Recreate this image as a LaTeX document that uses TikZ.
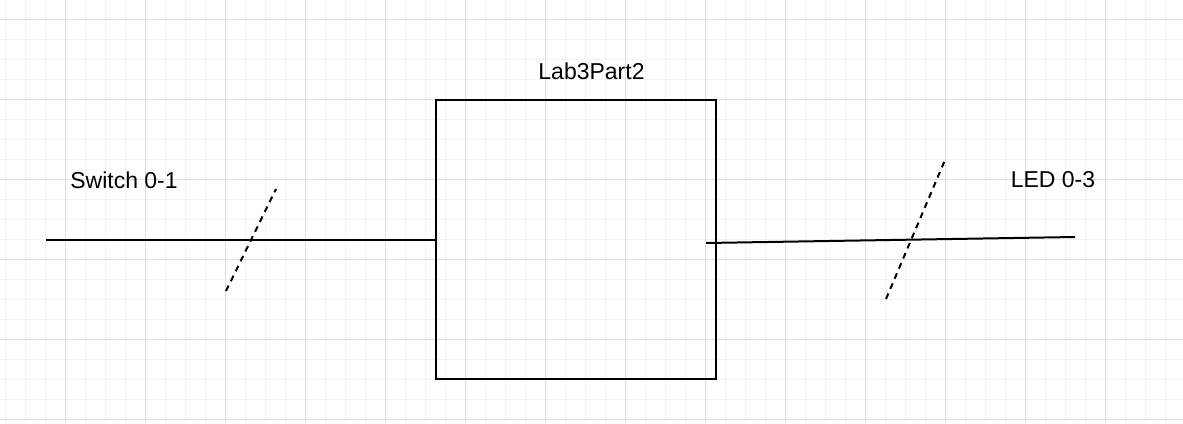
\documentclass[tikz,border=0pt]{standalone}
\usepackage{fontspec}
\setmainfont{Liberation Sans}
\usetikzlibrary{positioning}
\definecolor{gridminor}{HTML}{F3F3F3}
\definecolor{gridmajor}{HTML}{DEDEDE}
\begin{document}
\begin{tikzpicture}[x=1pt,y=-1pt,semithick,
		font=\fontsize{23}{28}\selectfont]
		\tikzstyle{wire}=[line width=2pt]
		\tikzstyle{bus}=[line width=2pt,dash pattern=on 6pt off 5pt]
		\tikzstyle{block}=[draw,line width=2pt,minimum width=280pt,minimum height=279pt,inner sep=0pt]
		\tikzstyle{label}=[anchor=base,inner sep=0pt]
		
		\useasboundingbox (0,0) rectangle (1183,423);
		\fill[white] (0,0) rectangle (1183,423);
		% background grid
		\foreach \x in {5,25,...,1185} \draw[gridminor,line width=1pt] (\x,0) -- (\x,423);
		\foreach \y in {-1,19,...,425} \draw[gridminor,line width=1pt] (0,\y) -- (1183,\y);
		\foreach \x in {65,145,...,1185} \draw[gridmajor,line width=1pt] (\x,0) -- (\x,423);
		\foreach \y in {19,99,...,425} \draw[gridmajor,line width=1pt] (0,\y) -- (1183,\y);
		
		\node[block] (top) at (576,239.5) {};
		\node[label] (name) at (591.5,79) {Lab3Part2};
		\node[label] (sw) at (124,188) {Switch 0-1};
		\node[label] (led) at (1053,187) {LED 0-3};
		
		\coordinate (in) at (46,240);
		\coordinate (out0) at (706,243);
		\coordinate (out) at (1075,237);
		\coordinate (s1) at (226,291);
		\coordinate (s2) at (276,189);
		\coordinate (l1) at (886,299);
		\coordinate (l2) at (945,160);
		
		\draw[wire] (in) -- (in -| top.west);
		\draw[wire] (out0) -- (out);
		\draw[bus] (s1) -- (s2);
		\draw[bus] (l1) -- (l2);
\end{tikzpicture}
\end{document}
